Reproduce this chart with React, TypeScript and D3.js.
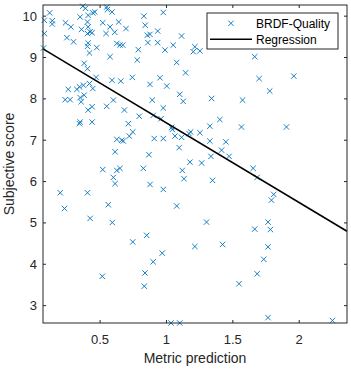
import React, { useEffect, useRef } from 'react';
import * as d3 from 'd3';

// BRDF-Quality samples: [metric prediction, subjective score]
const brdfQuality: [number, number][] = [
  [0.37, 10.24], [0.39, 10.19], [0.12, 10.08], [0.08, 9.9], [0.14, 9.89], [0.14, 9.81],
  [0.08, 9.58], [0.074, 9.23], [0.24, 9.84], [0.28, 9.74], [0.35, 9.98], [0.41, 10.02],
  [0.46, 10.1], [0.445, 10.08], [0.405, 9.86], [0.41, 9.74], [0.36, 9.68], [0.425, 9.62],
  [0.405, 9.58], [0.44, 9.6], [0.55, 10.22], [0.555, 10.16], [0.52, 9.84], [0.575, 9.74],
  [0.545, 9.58], [0.61, 9.61], [0.25, 9.48], [0.3, 9.38], [0.41, 9.35], [0.405, 9.27],
  [0.475, 9.24], [0.42, 9.11], [0.575, 9.02], [0.38, 8.86], [0.405, 8.73], [0.47, 8.52],
  [0.59, 8.45], [0.26, 8.23], [0.325, 8.23], [0.345, 8.29], [0.375, 8.33], [0.42, 8.37],
  [0.445, 8.25], [0.237, 7.98], [0.274, 7.98], [0.35, 8.03], [0.357, 7.93], [0.38, 8.09],
  [0.41, 7.73], [0.44, 7.81], [0.55, 7.82], [0.6, 7.97], [0.35, 7.44], [0.44, 7.44],
  [0.345, 7.4], [0.59, 10.1], [0.83, 10.0], [0.976, 10.09], [0.64, 9.86], [0.695, 9.7],
  [0.84, 9.78], [0.934, 9.64], [0.856, 9.54], [0.876, 9.56], [0.86, 9.36], [0.934, 9.36],
  [1.114, 9.52], [1.051, 9.3], [0.989, 9.18], [0.626, 9.34], [0.65, 9.3], [0.671, 9.3],
  [0.788, 9.19], [0.78, 8.94], [1.214, 9.26], [1.202, 9.14], [1.252, 9.16], [1.077, 8.88],
  [1.144, 8.63], [0.656, 8.43], [0.743, 8.52], [0.951, 8.51], [0.876, 8.35], [1.002, 8.31],
  [0.683, 7.73], [0.893, 7.97], [0.976, 7.78], [1.1, 8.11], [1.126, 7.94], [1.34, 8.01],
  [0.713, 7.4], [0.795, 7.58], [0.9, 7.6], [0.959, 7.52], [1.039, 7.31], [1.327, 7.34],
  [1.402, 7.5], [1.665, 9.02], [1.698, 8.49], [1.959, 8.55], [1.778, 8.19], [1.573, 7.97],
  [1.565, 7.32], [1.904, 7.32], [0.626, 7.02], [0.613, 6.72], [0.52, 6.29], [0.626, 6.27],
  [0.6, 6.1], [0.613, 5.95], [0.2, 5.73], [0.405, 5.73], [0.232, 5.35], [0.425, 5.11],
  [0.562, 5.44], [0.592, 5.01], [0.746, 7.2], [0.72, 7.1], [0.663, 7.0], [0.675, 6.98],
  [0.908, 7.04], [0.976, 7.04], [1.044, 7.26], [1.064, 7.1], [1.114, 7.07], [1.096, 6.82],
  [1.182, 7.2], [1.17, 7.16], [1.252, 7.18], [1.327, 6.98], [1.447, 6.96], [1.415, 6.76],
  [1.335, 6.61], [0.868, 6.65], [1.177, 6.47], [1.265, 6.45], [0.65, 6.32], [0.826, 6.32],
  [1.119, 6.27], [1.132, 6.07], [0.876, 5.93], [0.976, 5.81], [1.347, 6.03], [1.077, 5.41],
  [1.302, 5.02], [0.746, 4.54], [0.851, 4.7], [1.214, 4.43], [1.423, 4.48], [1.472, 6.61],
  [1.653, 6.32], [1.683, 6.1], [1.808, 5.69], [1.791, 5.55], [1.765, 5.02], [1.665, 4.85],
  [1.783, 4.84], [1.765, 4.42], [0.517, 3.71], [0.968, 4.27], [0.9, 4.06], [0.838, 3.79],
  [0.833, 3.47], [1.034, 2.58], [1.1, 2.58], [1.733, 4.12], [1.683, 3.77], [1.547, 3.53],
  [1.765, 2.71], [2.25, 2.64],
];

const regression = { intercept: 9.345, slope: -1.926 };
const xDomain: [number, number] = [0.07, 2.36];
const yDomain: [number, number] = [2.58, 10.27];
const xTicks = [0.5, 1, 1.5, 2];
const yTicks = [3, 4, 5, 6, 7, 8, 9, 10];
const legendLabels = ['BRDF-Quality', 'Regression'];

const W = 351;
const H = 370;
const margin = { top: 5, right: 4, bottom: 47, left: 43 };
const BLUE = '#0072BD';
const AXIS = '#262626';
const FONT = '"Liberation Sans", Arial, sans-serif';

const App = () => {
  const svgRef = useRef<SVGSVGElement>(null);

  useEffect(() => {
    const svg = d3.select(svgRef.current);
    svg.selectAll('*').remove();

    const iw = W - margin.left - margin.right;
    const ih = H - margin.top - margin.bottom;

    const x = d3.scaleLinear().domain(xDomain).range([0, iw]);
    const y = d3.scaleLinear().domain(yDomain).range([ih, 0]);

    const g = svg.append('g').attr('transform', `translate(${margin.left},${margin.top})`);

    // points
    const s = 2.7;
    g.append('g')
      .selectAll('path')
      .data(brdfQuality)
      .enter()
      .append('path')
      .attr('d', d => {
        const cx = x(d[0]);
        const cy = y(d[1]);
        return `M${cx - s},${cy - s}L${cx + s},${cy + s}M${cx - s},${cy + s}L${cx + s},${cy - s}`;
      })
      .attr('stroke', BLUE)
      .attr('stroke-width', 0.9)
      .attr('fill', 'none');

    // regression line
    const line = d3.line<number>()
      .x(d => x(d))
      .y(d => y(regression.intercept + regression.slope * d));
    g.append('path')
      .attr('d', line(xDomain))
      .attr('stroke', '#000')
      .attr('stroke-width', 1.6)
      .attr('fill', 'none');

    // box
    g.append('rect')
      .attr('width', iw)
      .attr('height', ih)
      .attr('fill', 'none')
      .attr('stroke', AXIS)
      .attr('stroke-width', 1);

    const tl = 3;
    // x ticks (bottom + top, inward)
    const xt = g.append('g');
    xTicks.forEach(t => {
      xt.append('line').attr('x1', x(t)).attr('x2', x(t)).attr('y1', ih).attr('y2', ih - tl).attr('stroke', AXIS);
      xt.append('line').attr('x1', x(t)).attr('x2', x(t)).attr('y1', 0).attr('y2', tl).attr('stroke', AXIS);
      xt.append('text')
        .attr('x', x(t))
        .attr('y', ih + 21)
        .attr('text-anchor', 'middle')
        .attr('fill', AXIS)
        .attr('font-size', 13)
        .attr('font-family', FONT)
        .text(d3.format('')(t));
    });

    // y ticks (left + right, inward)
    const yt = g.append('g');
    yTicks.forEach(t => {
      yt.append('line').attr('x1', 0).attr('x2', tl).attr('y1', y(t)).attr('y2', y(t)).attr('stroke', AXIS);
      yt.append('line').attr('x1', iw).attr('x2', iw - tl).attr('y1', y(t)).attr('y2', y(t)).attr('stroke', AXIS);
      yt.append('text')
        .attr('x', -6)
        .attr('y', y(t))
        .attr('dy', '0.35em')
        .attr('text-anchor', 'end')
        .attr('fill', AXIS)
        .attr('font-size', 13)
        .attr('font-family', FONT)
        .text(t);
    });

    // axis labels
    g.append('text')
      .attr('x', iw / 2)
      .attr('y', ih + 40)
      .attr('text-anchor', 'middle')
      .attr('fill', AXIS)
      .attr('font-size', 14)
      .attr('font-family', FONT)
      .text('Metric prediction');

    g.append('text')
      .attr('transform', 'rotate(-90)')
      .attr('x', -ih / 2)
      .attr('y', -29)
      .attr('text-anchor', 'middle')
      .attr('fill', AXIS)
      .attr('font-size', 14)
      .attr('font-family', FONT)
      .text('Subjective score');

    // legend
    const lg = svg.append('g').attr('transform', 'translate(207,13)');
    lg.append('rect')
      .attr('width', 131)
      .attr('height', 36)
      .attr('fill', '#fff')
      .attr('stroke', AXIS)
      .attr('stroke-width', 1);
    lg.append('path')
      .attr('d', `M${24 - s},${10.3 - s}L${24 + s},${10.3 + s}M${24 - s},${10.3 + s}L${24 + s},${10.3 - s}`)
      .attr('stroke', BLUE)
      .attr('stroke-width', 0.9);
    lg.append('line')
      .attr('x1', 3).attr('x2', 45)
      .attr('y1', 26.3).attr('y2', 26.3)
      .attr('stroke', '#000')
      .attr('stroke-width', 1.6);
    legendLabels.forEach((l, i) => {
      lg.append('text')
        .attr('x', 49)
        .attr('y', 10.3 + i * 16)
        .attr('dy', '0.35em')
        .attr('fill', '#000')
        .attr('font-size', 12)
        .attr('font-family', FONT)
        .text(l);
    });
  }, []);

  return (
    <svg
      ref={svgRef}
      width={W}
      height={H}
      style={{ position: 'absolute', left: 0, top: 0, background: '#fff' }}
    />
  );
};

export default App;
